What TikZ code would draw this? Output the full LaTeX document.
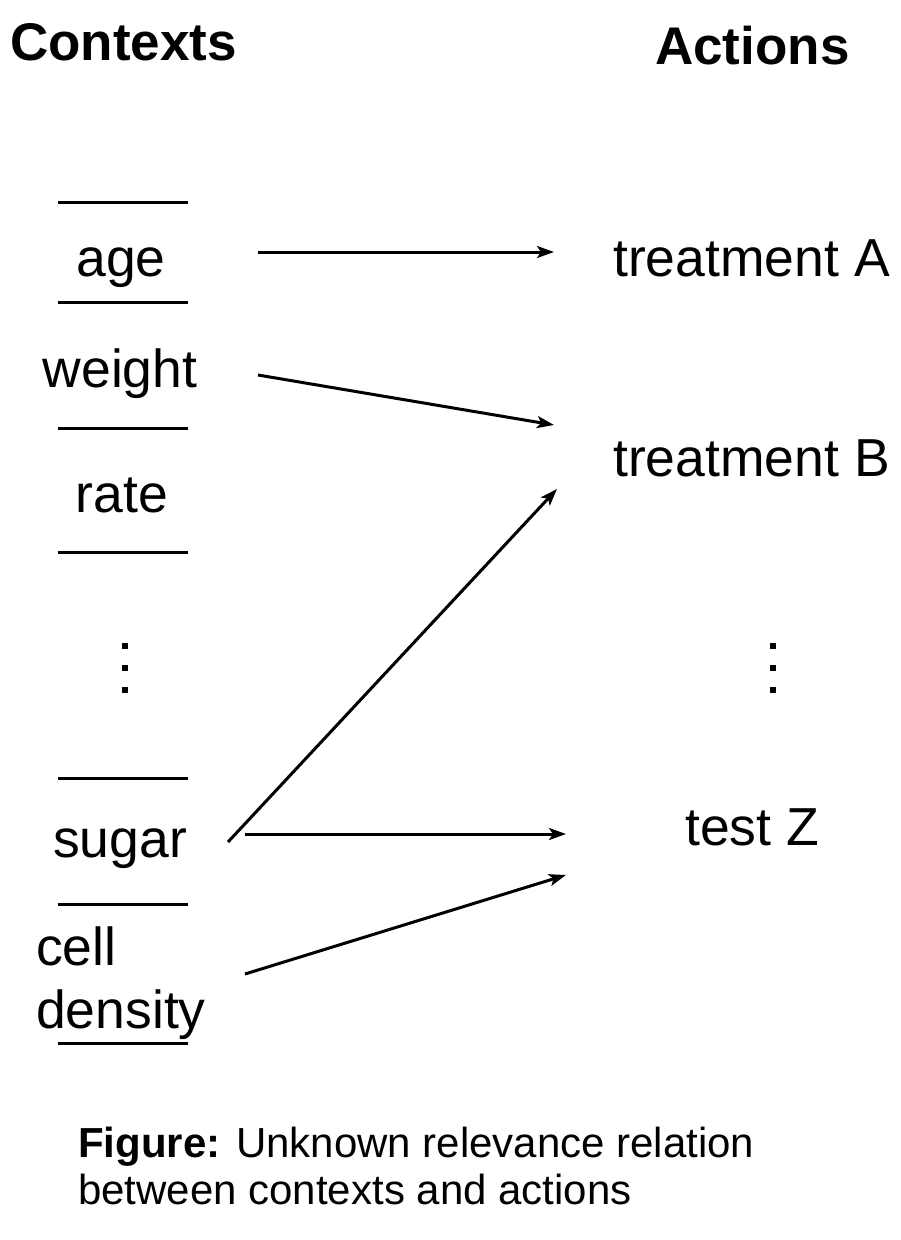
\documentclass[tikz,border=0pt]{standalone}
\usepackage{fontspec}
\setmainfont{Liberation Sans}
\usetikzlibrary{arrows.meta}
\begin{document}
\begin{tikzpicture}[x=1pt,y=-1pt,
  lbl/.style={inner sep=0pt,anchor=base,font=\fontsize{53.5}{60}\selectfont},
  hdr/.style={inner sep=0pt,anchor=base west,font=\fontsize{53}{60}\selectfont\bfseries},
  rule/.style={line width=3pt},
  conn/.style={line width=3pt,-{Stealth[length=17pt,width=12pt,inset=4pt]}},
  dot/.style={fill=black,draw=none}]
\useasboundingbox[fill=white] (0,0) rectangle (900,1240);
% headers
\node[hdr] (ctx) at (10,60) {Contexts};
\node[hdr] (act) at (655,64) {Actions};
% context labels
\node[lbl] (age) at (121,276) {age};
\node[lbl] (weight) at (120,387) {weight};
\node[lbl] (rate) at (122,512) {rate};
\node[lbl] (sugar) at (120,857) {sugar};
\node[lbl,anchor=base west] (cell) at (36,965) {cell};
\node[lbl,anchor=base west] (density) at (36,1028) {density};
% actions
\node[lbl,anchor=base west] (tA) at (613,276) {treatment A};
\node[lbl,anchor=base west] (tB) at (613,476) {treatment B};
\node[lbl,anchor=base west] (tZ) at (685,845) {test Z};
% rules
\foreach \y in {202,302,428,552,778,904,1043}
  \draw[rule] (58,\y) -- (188,\y);
% dots
\foreach \x in {125,773}
  \foreach \y in {646,668,690}
    \fill[dot] (\x-3,\y-3) rectangle (\x+3,\y+3);
% connector ends
\coordinate (age-o) at (258,252);
\coordinate (tA-i) at (554,252);
\coordinate (weight-o) at (258,375);
\coordinate (tB-i1) at (554,425);
\coordinate (sugar-o1) at (228,842);
\coordinate (tB-i2) at (557,489);
\coordinate (sugar-o2) at (245,834);
\coordinate (tZ-i1) at (566,834);
\coordinate (density-o) at (245,974);
\coordinate (tZ-i2) at (566,875);
\draw[conn] (age-o) -- (tA-i);
\draw[conn] (weight-o) -- (tB-i1);
\draw[conn] (sugar-o1) -- (tB-i2);
\draw[conn] (sugar-o2) -- (tZ-i1);
\draw[conn] (density-o) -- (tZ-i2);
% caption
\node[inner sep=0pt,anchor=base west,align=left,font=\fontsize{42}{47}\selectfont] (cap) at (78,1204)
  {\textbf{Figure:} Unknown relevance relation\\between contexts and actions};
\end{tikzpicture}
\end{document}
